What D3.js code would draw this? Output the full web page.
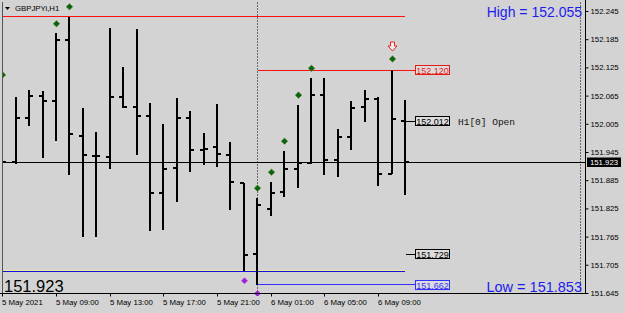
<!DOCTYPE html>
<html>
<head>
<meta charset="utf-8">
<script src="https://cdn.jsdelivr.net/npm/d3@7"></script>
<style>
  body { margin: 0; background: #d3d3d3; }
  svg { display: block; }
</style>
</head>
<body>
<script>
// hourly GBPJPYi bars, 5 May 05:00 .. 6 May 11:00
var times = [
  "2021-05-05 05:00", "2021-05-05 06:00", "2021-05-05 07:00", "2021-05-05 08:00",
  "2021-05-05 09:00", "2021-05-05 10:00", "2021-05-05 11:00", "2021-05-05 12:00",
  "2021-05-05 13:00", "2021-05-05 14:00", "2021-05-05 15:00", "2021-05-05 16:00",
  "2021-05-05 17:00", "2021-05-05 18:00", "2021-05-05 19:00", "2021-05-05 20:00",
  "2021-05-05 21:00", "2021-05-05 22:00", "2021-05-05 23:00", "2021-05-06 00:00",
  "2021-05-06 01:00", "2021-05-06 02:00", "2021-05-06 03:00", "2021-05-06 04:00",
  "2021-05-06 05:00", "2021-05-06 06:00", "2021-05-06 07:00", "2021-05-06 08:00",
  "2021-05-06 09:00", "2021-05-06 10:00", "2021-05-06 11:00"
];
var opens = [151.960, 151.924, 152.018, 152.064, 152.054, 152.183, 151.979, 151.937,
  151.935, 152.062, 152.040, 152.022, 151.858, 151.911, 152.018, 151.949,
  151.956, 151.939, 151.880, 151.729, 151.824, 151.859, 151.909, 151.922,
  152.066, 151.928, 151.977, 152.040, 152.058, 151.898, 152.012];
var highs = [152.088, 152.063, 152.077, 152.075, 152.198, 152.233, 152.039, 151.987,
  152.208, 152.126, 152.206, 152.049, 152.005, 152.060, 152.033, 151.985,
  152.047, 151.967, 151.880, 151.847, 151.881, 151.947, 152.045, 152.102,
  152.102, 151.995, 152.054, 152.077, 152.061, 152.120, 152.055];
var lows = [151.877, 151.919, 152.000, 151.932, 151.969, 151.896, 151.764, 151.765,
  151.908, 152.039, 151.938, 151.777, 151.779, 151.839, 151.902, 151.917,
  151.914, 151.822, 151.692, 151.662, 151.809, 151.850, 151.869, 151.920,
  151.895, 151.891, 151.949, 152.008, 151.873, 151.898, 151.853];
var closes = [151.924, 152.018, 152.064, 152.054, 152.183, 151.983, 151.938, 151.936,
  152.062, 152.040, 152.022, 151.858, 151.909, 152.018, 151.949, 151.951,
  151.940, 151.881, 151.726, 151.833, 151.858, 151.908, 151.921, 152.066,
  151.928, 151.976, 152.039, 152.058, 151.898, 152.015, 151.923];

// indicator marks
var upDotTimes = ["2021-05-05 05:00", "2021-05-05 09:00", "2021-05-05 10:00", "2021-05-06 00:00",
  "2021-05-06 01:00", "2021-05-06 02:00", "2021-05-06 03:00", "2021-05-06 04:00", "2021-05-06 10:00"];
var upDotPrices = [152.109, 152.218, 152.254, 151.868, 151.902, 151.968, 152.066, 152.123, 152.143];
var lowDotTimes = ["2021-05-05 23:00", "2021-05-06 00:00"];
var lowDotPrices = [151.671, 151.644];
var arrowTime = "2021-05-06 10:00";
var arrowPrice = 152.168;

// levels
var prevHigh = 152.235, prevLow = 151.692;
var dayHigh = 152.120, dayLow = 151.662, dayOpen = 151.729, barOpen = 152.012;
var bid = 151.923, high0 = 152.055, low0 = 151.853;

var priceTicks = ["152.245", "152.185", "152.125", "152.065", "152.005", "151.945",
  "151.885", "151.825", "151.765", "151.705", "151.645"];
var timeTicks = ["2021-05-05 05:00", "2021-05-05 09:00", "2021-05-05 13:00", "2021-05-05 17:00",
  "2021-05-05 21:00", "2021-05-06 01:00", "2021-05-06 05:00", "2021-05-06 09:00"];
var timeTickLabels = ["5 May 2021", "5 May 09:00", "5 May 13:00", "5 May 17:00",
  "5 May 21:00", "6 May 01:00", "6 May 05:00", "6 May 09:00"];

var W = 625, H = 313;
var parse = d3.timeParse("%Y-%m-%d %H:%M");
var bars = times.map(function(t, i) {
  return {t: parse(t), o: opens[i], h: highs[i], l: lows[i], c: closes[i]};
});

var x = d3.scaleTime()
  .domain([parse(times[0]), parse(times[times.length - 1])])
  .range([2.3, 405]);
var y = d3.scaleLinear()
  .domain([151.645, 152.245])
  .range([293, 11]);

var plotL = 2, plotR = 585, plotT = 2, plotB = 294;

var svg = d3.select("body").append("svg")
  .attr("width", W).attr("height", H)
  .style("font-family", "'Liberation Sans', Arial, sans-serif");

svg.append("rect").attr("width", W).attr("height", H).attr("fill", "#d3d3d3");

svg.append("clipPath").attr("id", "plot")
  .append("rect").attr("x", plotL).attr("y", plotT)
  .attr("width", plotR - plotL).attr("height", plotB - plotT + 2);

var g = svg.append("g").attr("clip-path", "url(#plot)").attr("shape-rendering", "crispEdges");

function px(t) { return Math.round(x(t)); }
function hline(p, x0, x1, color, dy) {
  g.append("rect").attr("x", x0).attr("width", x1 - x0)
    .attr("y", Math.round(y(p)) + (dy || 0)).attr("height", 1).attr("fill", color);
}

// day separator + right margin dotted lines
var sep = px(parse("2021-05-06 00:00")) + 0.5;
[sep, 580.5].forEach(function(xx) {
  g.append("line").attr("x1", xx).attr("x2", xx).attr("y1", plotT).attr("y2", plotB)
    .attr("stroke", "#6a6a6a").attr("stroke-dasharray", "2,1");
});

// previous day high/low
hline(prevHigh, plotL, 405, "#ff1010");
hline(prevLow, plotL, 405, "#f0ec90", -1);
hline(prevLow, plotL, 405, "#1010e0");

// current day high/low, opens
hline(dayHigh, sep, 415, "#ff1010");
hline(dayLow, sep, 415, "#3232ff", -1);
hline(dayOpen, 406, 415, "#000");
hline(barOpen, 405, 415, "#000");

// bid line
hline(bid, plotL, plotR, "#000");

// OHLC bars
var bar = g.selectAll(".bar").data(bars).enter().append("g").attr("class", "bar");
bar.append("rect")
  .attr("x", function(d) { return px(d.t) - 1; })
  .attr("width", 2)
  .attr("y", function(d) { return Math.round(y(d.h)); })
  .attr("height", function(d) { return Math.max(2, Math.round(y(d.l)) - Math.round(y(d.h))); })
  .attr("fill", "#000");
bar.append("rect")
  .attr("x", function(d) { return px(d.t) - 4; })
  .attr("width", 4).attr("height", 2)
  .attr("y", function(d) { return Math.round(y(d.o)) - 1; })
  .attr("fill", "#000");
bar.append("rect")
  .attr("x", function(d) { return px(d.t); })
  .attr("width", 4).attr("height", 2)
  .attr("y", function(d) { return Math.round(y(d.c)) - 1; })
  .attr("fill", "#000");

// indicator dots
var diamond = d3.symbol().type(d3.symbolDiamond2).size(28);
upDotTimes.forEach(function(t, i) {
  g.append("path").attr("d", diamond)
    .attr("transform", "translate(" + (px(parse(t)) + 0.5) + "," + y(upDotPrices[i]) + ")")
    .attr("fill", "#08640f").attr("stroke", "#6f8a3a").attr("stroke-width", 0.6)
    .attr("shape-rendering", "auto");
});
lowDotTimes.forEach(function(t, i) {
  g.append("path").attr("d", diamond)
    .attr("transform", "translate(" + (px(parse(t)) + 0.5) + "," + y(lowDotPrices[i]) + ")")
    .attr("fill", "#a020e0").attr("shape-rendering", "auto");
});

// down arrow
var ax = px(parse(arrowTime)) + 0.5, ay = Math.round(y(arrowPrice));
g.append("path")
  .attr("d", "M" + (ax - 2) + "," + (ay - 5) + "h4v4h2.5l-4.5,5l-4.5,-5h2.5z")
  .attr("fill", "#f2f2f2").attr("stroke", "#e82020").attr("stroke-width", 1)
  .attr("shape-rendering", "auto");

// price labels on chart
function priceBox(p, color, bg) {
  var yy = Math.round(y(p));
  svg.append("rect").attr("x", 415.5).attr("y", yy - 4.5).attr("width", 34).attr("height", 9)
    .attr("fill", bg).attr("stroke", color).attr("shape-rendering", "crispEdges");
  svg.append("text").attr("x", 432.5).attr("y", yy + 3.5).attr("text-anchor", "middle")
    .attr("font-size", 9).attr("fill", color).text(d3.format(".3f")(p));
}
priceBox(dayHigh, "#e81818", "#dcdcdc");
priceBox(barOpen, "#000", "#dcdcdc");
priceBox(dayOpen, "#000", "#dcdcdc");
priceBox(dayLow, "#3030ff", "#dcdcdc");

svg.append("text").attr("x", 458).attr("y", Math.round(y(barOpen)) + 3.5)
  .attr("font-family", "'Liberation Mono', 'DejaVu Sans Mono', monospace")
  .attr("font-size", 9.5).attr("fill", "#111").text("H1[0] Open");

// frame
var frame = svg.append("g").attr("shape-rendering", "crispEdges").attr("stroke", "#000");
frame.append("line").attr("x1", plotL + 0.5).attr("x2", plotL + 0.5).attr("y1", plotT).attr("y2", plotB)
  .attr("stroke", "#555");
frame.append("line").attr("x1", 0).attr("x2", plotR + 1).attr("y1", plotB - 0.5).attr("y2", plotB - 0.5);
frame.append("line").attr("x1", plotR + 0.5).attr("x2", plotR + 0.5).attr("y1", 0).attr("y2", plotB);

// right price axis
var yAxis = d3.axisRight(y)
  .tickValues(priceTicks.map(Number))
  .tickSize(3).tickPadding(2)
  .tickFormat(function(d, i) { return priceTicks[i]; });
var ya = svg.append("g").attr("transform", "translate(" + (plotR + 0.5) + ",0)").call(yAxis);
ya.select(".domain").remove();
ya.selectAll("text").attr("font-size", 7.8).attr("font-family", "'Liberation Sans', Arial, sans-serif")
  .attr("fill", "#000");
ya.selectAll("line").attr("stroke", "#000");

// bid tag
var by = Math.round(y(bid));
svg.append("rect").attr("x", 587).attr("y", by - 4.5).attr("width", 34).attr("height", 9.5).attr("fill", "#000");
svg.append("text").attr("x", 604).attr("y", by + 3).attr("text-anchor", "middle")
  .attr("font-size", 7.8).attr("fill", "#fff").text(d3.format(".3f")(bid));

// bottom time axis
var xAxis = d3.axisBottom(x)
  .tickValues(timeTicks.map(function(t) { return parse(t); }))
  .tickSize(3).tickPadding(3)
  .tickFormat(function(d, i) { return timeTickLabels[i]; });
var xa = svg.append("g").attr("transform", "translate(0," + (plotB - 0.5) + ")").call(xAxis);
xa.select(".domain").remove();
xa.selectAll(".tick").attr("transform", function(d) { return "translate(" + (px(d) + 0.5) + ",0)"; });
xa.selectAll("text").attr("text-anchor", "start").attr("x", -0.5)
  .attr("font-size", 7.8).attr("font-family", "'Liberation Sans', Arial, sans-serif").attr("fill", "#000");
xa.selectAll("line").attr("stroke", "#000");

// title
svg.append("path").attr("d", "M5,7h5l-2.5,3z").attr("fill", "#000");
svg.append("text").attr("x", 15).attr("y", 11).attr("font-size", 7.8).attr("fill", "#000")
  .text("GBPJPYi,H1");

// high / low / bid texts
svg.append("text").attr("x", 582).attr("y", 17).attr("text-anchor", "end")
  .attr("font-size", 14).attr("fill", "#1c1cf0").text("High = " + d3.format(".3f")(high0));
svg.append("text").attr("x", 582).attr("y", 292).attr("text-anchor", "end")
  .attr("font-size", 14.5).attr("fill", "#1c1cf0").text("Low = " + d3.format(".3f")(low0));
svg.append("text").attr("x", 4).attr("y", 292)
  .attr("font-size", 16.5).attr("fill", "#000").text(d3.format(".3f")(bid));
</script>
</body>
</html>
